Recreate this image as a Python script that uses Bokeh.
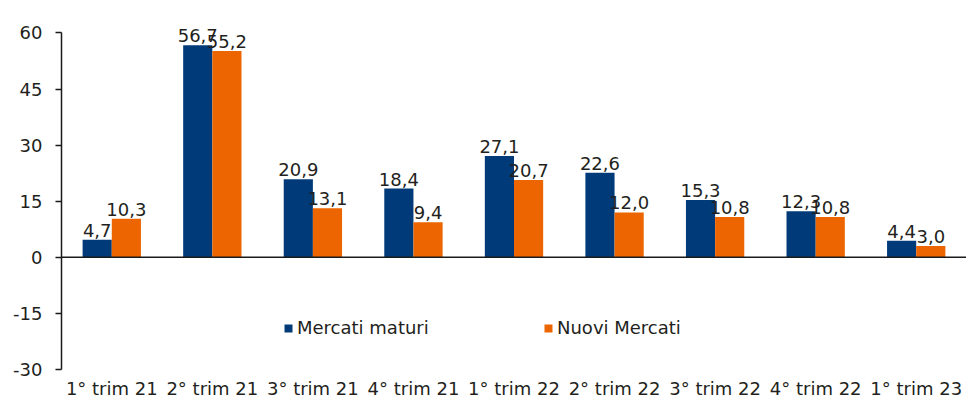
from bokeh.plotting import figure
from bokeh.models import (ColumnDataSource, FactorRange, Range1d, Span, Legend, LegendItem,
                          FixedTicker, LabelSet)
from bokeh.transform import dodge
from bokeh.core.properties import value
from bokeh.embed import file_html
from bokeh.resources import INLINE

categories = ["1° trim 21", "2° trim 21", "3° trim 21", "4° trim 21", "1° trim 22",
              "2° trim 22", "3° trim 22", "4° trim 22", "1° trim 23"]
mercati_maturi = [4.7, 56.7, 20.9, 18.4, 27.1, 22.6, 15.3, 12.3, 4.4]
nuovi_mercati = [10.3, 55.2, 13.1, 9.4, 20.7, 12.0, 10.8, 10.8, 3.0]
y_ticks = [-30, -15, 0, 15, 30, 45, 60]

FONT = "DejaVu Sans"
FS = "18px"
TXT = "#231f20"
BLUE = "#003a78"
ORANGE = "#ec6500"

src = ColumnDataSource(dict(
    cat=categories,
    m=mercati_maturi,
    n=nuovi_mercati,
    ml=[f"{v:.1f}".replace(".", ",") for v in mercati_maturi],
    nl=[f"{v:.1f}".replace(".", ",") for v in nuovi_mercati],
))

p = figure(x_range=FactorRange(*categories, range_padding=0), y_range=Range1d(-30, 66),
           width=966, height=401, output_backend="svg", toolbar_location=None,
           min_border_left=61, min_border_right=0, min_border_top=10, min_border_bottom=28)
p.outline_line_color = None
p.xgrid.visible = False
p.ygrid.visible = False

W = 0.29
r1 = p.vbar(x=dodge("cat", -W / 2, range=p.x_range), top="m", width=W, source=src,
            fill_color=BLUE, line_color=None)
r2 = p.vbar(x=dodge("cat", W / 2, range=p.x_range), top="n", width=W, source=src,
            fill_color=ORANGE, line_color=None)

for col, lab, off in [("m", "ml", -W / 2), ("n", "nl", W / 2)]:
    ls = LabelSet(x=dodge("cat", off, range=p.x_range), y=col, text=lab, source=src,
                  text_align="center", text_baseline="bottom", y_offset=3,
                  text_font=value(FONT), text_font_size=value(FS), text_color=value(TXT))
    p.add_layout(ls)

p.add_layout(Span(location=0, dimension="width", line_color="#1a1a1a", line_width=1.5))

# y axis
ya = p.yaxis[0]
ya.bounds = (-30, 60)
ya.ticker = FixedTicker(ticks=y_ticks)
ya.major_label_overrides = {t: str(t) for t in y_ticks}
ya.axis_line_color = "#1a1a1a"
ya.axis_line_width = 1.5
ya.major_tick_line_color = "#1a1a1a"
ya.major_tick_line_width = 1.5
ya.major_tick_out = 6
ya.major_tick_in = 0
ya.minor_tick_line_color = None
ya.major_label_text_font = FONT
ya.major_label_text_font_size = FS
ya.major_label_text_color = TXT
ya.major_label_standoff = 13

# x axis
xa = p.xaxis[0]
xa.axis_line_color = None
xa.major_tick_line_color = None
xa.minor_tick_line_color = None
xa.major_label_text_font = FONT
xa.major_label_text_font_size = FS
xa.major_label_text_color = TXT
xa.major_label_standoff = 2

for item, r, loc in [("Mercati maturi", r1, (222, 31)), ("Nuovi Mercati", r2, (482, 31))]:
    lg = Legend(items=[LegendItem(label=item, renderers=[r])], location=loc,
                orientation="horizontal", background_fill_alpha=0, border_line_color=None,
                glyph_width=10, glyph_height=10, label_standoff=4, padding=0, margin=0,
                label_text_font=FONT, label_text_font_size=FS, label_text_color=TXT)
    p.add_layout(lg, "center")

open("out.html", "w").write(file_html(p, INLINE))
